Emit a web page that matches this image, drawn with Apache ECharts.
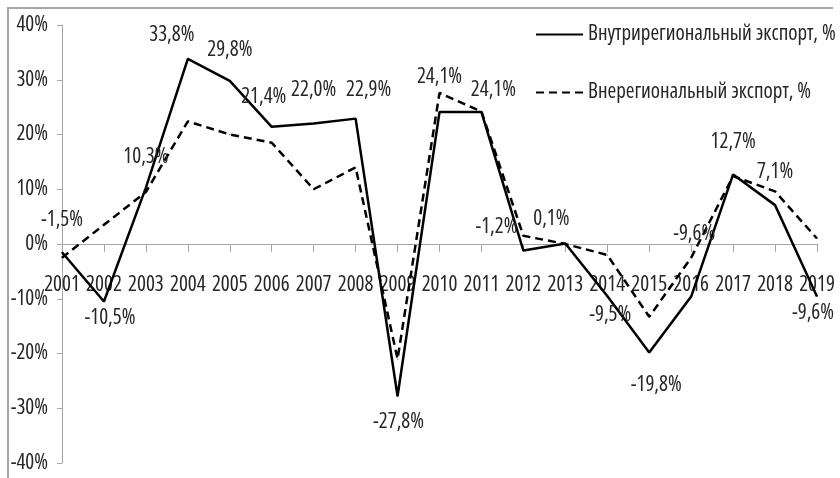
<!DOCTYPE html>
<html>
<head>
<meta charset="utf-8">
<script src="https://cdn.jsdelivr.net/npm/echarts@6/dist/echarts.min.js"></script>
<style>
html,body{margin:0;padding:0;background:#fff;}
#chart{width:840px;height:478px;}
</style>
</head>
<body>
<div id="chart"></div>
<script>
// data
const years = ['2001','2002','2003','2004','2005','2006','2007','2008','2009','2010',
               '2011','2012','2013','2014','2015','2016','2017','2018','2019'];
const intraExport = [-1.5,-10.5,10.3,33.8,29.8,21.4,22.0,22.9,-27.8,24.1,
                     24.1,-1.2,0.1,-9.5,-19.8,-9.6,12.7,7.1,-9.6];
const extraExport = [-2.5,3.5,9.5,22.4,20.0,18.5,10.0,14.0,-21.0,27.6,
                     24.2,1.5,0.0,-2.0,-13.3,-2.5,12.4,9.6,1.0];
const seriesNames = ['Внутрирегиональный экспорт, %','Внерегиональный экспорт, %'];

// where excel put each label, relative to its point (px)
const labelOffsets = [[0,-32],[6,17],[0,-31],[-16,-24],[0,-31],[-8,-30],[0,-34],[13,-29],[1,26],[0,-35],
                      [12,-22],[-27,-24],[-14,-24],[3,19],[7,33],[3,-63],[0,-32],[0,-33],[-4,16]];

// open sans has a width axis, "condensed" goes into the canvas font string
const font = "'Open Sans'";
const stretch = 'condensed';
const txt = '#262626';
const grey = '#a6a6a6';

const gridTop = 25, gridBottom = 15;
const yMin = -40, yMax = 40;

const chart = echarts.init(document.getElementById('chart'));

function pct(v){
    return v.toFixed(1).replace('.', ',') + '%';
}

const intraData = intraExport.map((v,i)=>{
    return {
        value:v,
        label:{offset:labelOffsets[i]}
    }
});

// put the category axis on the 0 line
const plotH = 478 - gridTop - gridBottom;
const zeroOffset = -plotH * (0 - yMin) / (yMax - yMin);

const option = {
    animation:false,
    backgroundColor:'#fff',
    textStyle:{fontFamily:font,fontWeight:stretch},
    graphic:[{
        type:'polyline',
        shape:{points:[[8,478],[8,8],[833,8]]},
        style:{stroke:grey,lineWidth:2,fill:null}
    }],
    grid:{
        left:62,
        right:23,
        top:gridTop,
        bottom:gridBottom,
        containLabel:false,
        outerBoundsMode:'none'
    },
    legend:{
        orient:'vertical',
        left:530,
        top:19,
        itemWidth:47,
        itemHeight:20,
        itemGap:37,
        itemStyle:{opacity:0},
        textStyle:{fontFamily:font,fontWeight:stretch,fontSize:21,color:txt},
        data:seriesNames
    },
    xAxis:{
        type:'category',
        data:years,
        boundaryGap:false,
        offset:zeroOffset,
        axisLine:{onZero:false,lineStyle:{color:grey,width:1}},
        axisTick:{show:true,alignWithLabel:true,length:8,lineStyle:{color:grey}},
        axisLabel:{fontFamily:font,fontWeight:stretch,fontSize:21,color:txt,margin:31,interval:0}
    },
    yAxis:{
        type:'value',
        min:yMin,
        max:yMax,
        interval:10,
        splitLine:{show:false},
        axisLine:{show:true,lineStyle:{color:grey,width:1}},
        axisTick:{show:true,length:5,lineStyle:{color:grey}},
        axisLabel:{
            fontFamily:font,fontWeight:stretch,fontSize:21,color:txt,margin:14,
            formatter:(v)=>v+'%'
        }
    },
    series:[{
        name:seriesNames[0],
        type:'line',
        data:intraData,
        symbol:'circle',
        symbolSize:1,
        itemStyle:{color:'#000'},
        lineStyle:{color:'#000',width:2.5,type:'solid'},
        label:{
            show:true,
            position:'inside',
            fontFamily:font,
            fontWeight:stretch,
            fontSize:21,
            color:txt,
            formatter:(p)=>pct(p.value)
        },
        z:3
    },{
        name:seriesNames[1],
        type:'line',
        data:extraExport,
        symbol:'circle',
        symbolSize:1,
        itemStyle:{color:'#000'},
        lineStyle:{color:'#000',width:2.5,type:[8,5]},
        z:2
    }]
};

chart.setOption(option);
</script>
</body>
</html>
